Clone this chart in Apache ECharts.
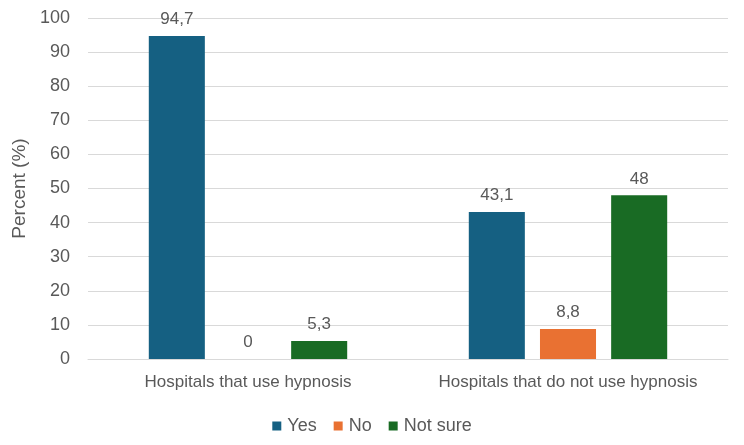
<!DOCTYPE html>
<html><head><meta charset="utf-8">
<script src="https://cdn.jsdelivr.net/npm/echarts@6/dist/echarts.min.js"></script>
<style>html,body{margin:0;padding:0;background:#fff}#c{width:744px;height:445px}</style>
</head><body><div id="c"></div>
<script>
const categories = ['Hospitals that use hypnosis', 'Hospitals that do not use hypnosis'];
const seriesNames = ['Yes', 'No', 'Not sure'];
const yesValues = [94.7, 43.1];
const noValues = [0, 8.8];
const notSureValues = [5.3, 48];
const colors = ['#156082', '#E97132', '#196B24'];
const font = 'Liberation Sans, Arial, sans-serif';
const txt = '#595959';
const allValues = [yesValues, noValues, notSureValues];
const chart = echarts.init(document.getElementById('c'));
chart.setOption({
  animation: false,
  textStyle: {fontFamily: font},
  grid: {left: 88, right: 16, top: 18, bottom: 86},
  legend: {
    bottom: 5, left: 'center', itemWidth: 9, itemHeight: 9, itemGap: 17,
    icon: 'rect',
    textStyle: {color: txt, fontSize: 18, fontFamily: font, padding: [0, 0, 0, 1]},
    data: seriesNames
  },
  xAxis: {
    type: 'category', data: categories,
    axisLine: {show: true, lineStyle: {color: '#d9d9d9'}},
    axisTick: {show: false},
    axisLabel: {color: txt, fontSize: 17, fontFamily: font, margin: 15, interval: 0, hideOverlap: false}
  },
  yAxis: {
    type: 'value', min: 0, max: 100, interval: 10,
    name: 'Percent (%)', nameLocation: 'middle', nameGap: 57,
    nameTextStyle: {color: txt, fontSize: 19, fontFamily: font},
    axisLine: {show: false}, axisTick: {show: false},
    axisLabel: {color: txt, fontSize: 18, fontFamily: font, margin: 18},
    splitLine: {lineStyle: {color: '#d9d9d9'}}
  },
  series: seriesNames.map((n, i) => ({
    name: n, type: 'bar', data: allValues[i],
    barGap: '27%', barCategoryGap: '38%',
    itemStyle: {color: colors[i]},
    label: {
      show: true, position: 'top', distance: 8, color: txt, fontSize: 17, fontFamily: font,
      formatter: p => String(p.value).replace('.', ',')
    }
  }))
});
</script></body></html>
